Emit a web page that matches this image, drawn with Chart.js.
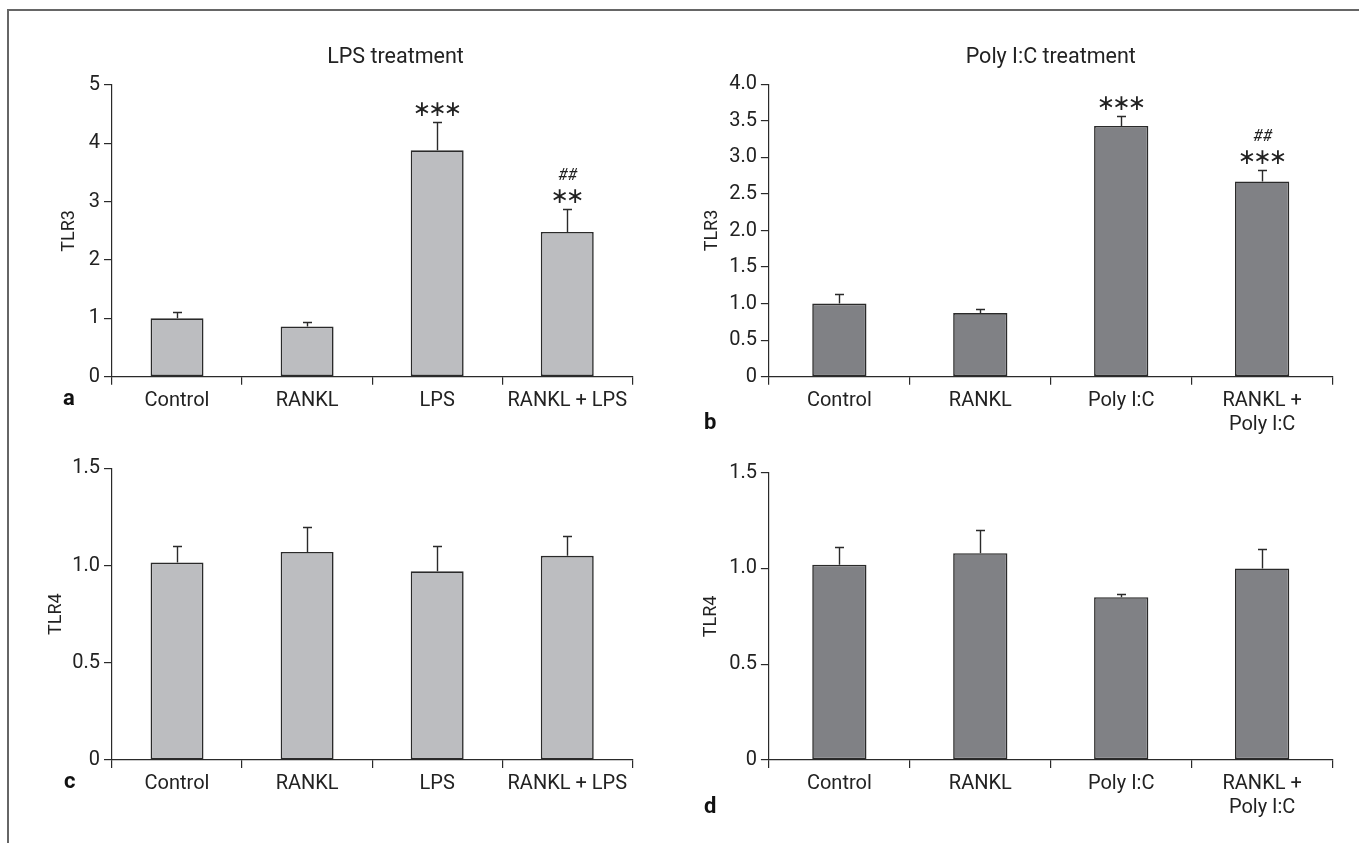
<!DOCTYPE html>
<html><head><meta charset="utf-8">
<script src="https://cdn.jsdelivr.net/npm/chart.js@4.4.1/dist/chart.umd.min.js"></script>
<style>
html,body{margin:0;padding:0;background:#fff;}
#wrap{position:relative;width:1359px;height:843px;overflow:hidden;background:#fff;}
canvas{position:absolute;}
.frame{position:absolute;left:7px;top:9px;width:1352px;height:834px;border-top:2px solid #666;border-left:2px solid #666;box-sizing:border-box;}
.ttl{position:absolute;font-family:Roboto;font-size:21.5px;line-height:1;color:#222;transform:translateX(-50%);white-space:nowrap;}
.lt{position:absolute;font-family:Roboto;font-weight:bold;font-size:22px;line-height:1;color:#111;}
</style></head><body>
<div id="wrap">
<div class="frame"></div>
<canvas id="ca" width="680" height="420" style="left:0;top:0"></canvas>
<canvas id="cb" width="679" height="445" style="left:680px;top:0"></canvas>
<canvas id="cc" width="680" height="423" style="left:0;top:420px"></canvas>
<canvas id="cd" width="679" height="423" style="left:680px;top:420px"></canvas>
<div class="ttl" style="left:395.5px;top:45px">LPS treatment</div>
<div class="ttl" style="left:1050.8px;top:45px">Poly I:C treatment</div>
<div class="lt" style="left:63px;top:386.5px">a</div>
<div class="lt" style="left:704px;top:410.5px">b</div>
<div class="lt" style="left:64px;top:770px">c</div>
<div class="lt" style="left:704px;top:794.5px">d</div>
</div>
<script>
// ---- data ----
const lpsCategories = ['Control', 'RANKL', 'LPS', 'RANKL + LPS'];
const polyCategories = ['Control', 'RANKL', 'Poly I:C', ['RANKL +', 'Poly I:C']];

const tlr3LpsMean = [1.00, 0.86, 3.88, 2.48];
const tlr3LpsErr  = [0.11, 0.07, 0.48, 0.40];
const tlr3PolyMean = [1.00, 0.87, 3.43, 2.67];
const tlr3PolyErr  = [0.13, 0.05, 0.14, 0.16];
const tlr4LpsMean = [1.015, 1.07, 0.97, 1.05];
const tlr4LpsErr  = [0.085, 0.13, 0.13, 0.10];
const tlr4PolyMean = [1.02, 1.08, 0.85, 1.00];
const tlr4PolyErr  = [0.09, 0.12, 0.015, 0.10];

const tlr3LpsSig  = [[], [], ['***'], ['**', '##']];
const tlr3PolySig = [[], [], ['***'], ['***', '##']];
const noSig = [[], [], [], []];

const ticksTlr3Lps  = ['0', '1', '2', '3', '4', '5'];
const ticksTlr3Poly = ['0', '0.5', '1.0', '1.5', '2.0', '2.5', '3.0', '3.5', '4.0'];
const ticksTlr4     = ['0', '0.5', '1.0', '1.5'];

// ---- drawing ----
const INK = '#2a2a2a';
const errPlugin = {
  id: 'errbars',
  afterDatasetsDraw(chart, args, opts) {
    const {ctx} = chart;
    const xs = chart.scales.x, ys = chart.scales.y;
    const mean = chart.data.datasets[0].data;
    const err = opts.err, sig = opts.sig;
    ctx.save();
    ctx.strokeStyle = INK;
    ctx.lineWidth = 1.4;
    ctx.fillStyle = '#222';
    ctx.textAlign = 'center';
    ctx.textBaseline = 'middle';
    for (let i = 0; i < mean.length; i++) {
      const x = Math.round(xs.getPixelForValue(i)) + 0.5;
      const y0 = ys.getPixelForValue(mean[i]);
      const y1 = Math.round(ys.getPixelForValue(mean[i] + err[i])) + 0.5;
      ctx.beginPath();
      ctx.moveTo(x, y0); ctx.lineTo(x, y1);
      ctx.moveTo(x - 4.5, y1); ctx.lineTo(x + 4.5, y1);
      ctx.stroke();
      const s = sig[i];
      for (let k = 0; k < s.length; k++) {
        const t = s[k];
        const yy = y1 - 13 - k * 21;
        if (t.indexOf('*') >= 0) {
          ctx.font = '22px "DejaVu Sans"';
          const n = t.length, gap = 15.5;
          for (let j = 0; j < n; j++) {
            ctx.fillText('\u2217', x + (j - (n - 1) / 2) * gap, yy + 1);
          }
        } else {
          ctx.font = 'italic 16px Roboto';
          ctx.fillText(t, x, yy);
        }
      }
    }
    ctx.restore();
  }
};

function makeChart(id, cats, mean, err, sig, o) {
  const tickFont = {family: 'Roboto', size: 20};
  return new Chart(document.getElementById(id), {
    type: 'bar',
    data: {labels: cats, datasets: [{
      data: mean, backgroundColor: o.fill, borderColor: INK, borderWidth: 1.6,
      borderSkipped: false, barPercentage: o.barPct, categoryPercentage: 1
    }]},
    options: {
      responsive: false, animation: false, events: [],
      layout: {padding: {left: 0, top: o.top, right: o.right, bottom: 0}},
      plugins: {legend: {display: false}, tooltip: {enabled: false}, title: {display: false},
        errbars: {err: err, sig: sig}},
      scales: {
        x: {
          offset: true,
          grid: {offset: true, drawOnChartArea: false, drawTicks: true, tickLength: 8, color: INK, lineWidth: 1.2},
          border: {display: true, color: INK, width: 1.2},
          ticks: {font: tickFont, color: '#222', padding: 4, maxRotation: 0, autoSkip: false},
          afterFit: s => { s.height = o.xh; }
        },
        y: {
          min: 0, max: o.max,
          ticks: {stepSize: o.step, font: tickFont, color: '#222', padding: 4,
            callback: (v, i) => o.tickLabels[i]},
          grid: {drawOnChartArea: false, drawTicks: true, tickLength: 8, color: INK, lineWidth: 1.2},
          border: {display: true, color: INK, width: 1.2},
          title: {display: true, text: o.ytitle, font: {family: 'Roboto', size: 18}, color: '#222',
            padding: {top: o.ytp, bottom: 0}},
          afterFit: s => { s.width = o.yw; }
        }
      }
    },
    plugins: [errPlugin]
  });
}

const LIGHT = '#bcbdc0', DARK = '#808185';
makeChart('ca', lpsCategories, tlr3LpsMean, tlr3LpsErr, tlr3LpsSig,
  {fill: LIGHT, barPct: 0.407, top: 85, right: 47.7, xh: 43.3, max: 5, step: 1, tickLabels: ticksTlr3Lps, ytitle: 'TLR3', ytp: 58.6, yw: 112});
makeChart('cb', polyCategories, tlr3PolyMean, tlr3PolyErr, tlr3PolySig,
  {fill: DARK, barPct: 0.385, top: 84.3, right: 26.4, xh: 68.3, max: 4, step: 0.5, tickLabels: ticksTlr3Poly, ytitle: 'TLR3', ytp: 21.5, yw: 88.9});
makeChart('cc', lpsCategories, tlr4LpsMean, tlr4LpsErr, noSig,
  {fill: LIGHT, barPct: 0.407, top: 48.3, right: 47.7, xh: 83, max: 1.5, step: 0.5, tickLabels: ticksTlr4, ytitle: 'TLR4', ytp: 45.6, yw: 112});
makeChart('cd', polyCategories, tlr4PolyMean, tlr4PolyErr, noSig,
  {fill: DARK, barPct: 0.385, top: 52.7, right: 26.4, xh: 83, max: 1.5, step: 0.5, tickLabels: ticksTlr4, ytitle: 'TLR4', ytp: 20.7, yw: 88.9});
</script>
</body></html>
